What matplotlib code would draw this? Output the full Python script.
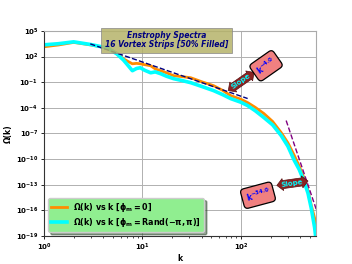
import matplotlib
matplotlib.use("Agg")
import matplotlib.pyplot as plt
import numpy as np

plt.rcParams["mathtext.default"] = "bf"

k_vals = [1, 1.4, 2, 3, 4.4, 5.5, 6.4, 7.2, 7.9, 8.7, 9.5, 10.5, 12.1, 13.5, 15.3, 17.5,
          20.7, 25, 30.9, 40, 52.8, 65, 79, 100, 117, 140, 171, 210, 256, 300, 348, 390,
          438, 480, 518, 560, 580]
log_omega_zero = [3.14, 3.35, 3.65, 3.35, 3.0, 2.4, 1.74, 1.4, 1.15, 1.2, 1.15, 1.05, 0.92,
                  0.55, 0.34, 0.1, -0.24, -0.35, -0.48, -0.95, -1.41, -1.95, -2.58, -3.0,
                  -3.39, -3.95, -4.67, -5.6, -6.89, -8.1, -9.57, -10.8, -12.25, -13.7,
                  -15.4, -16.9, -17.7]
log_omega_rand = [3.37, 3.5, 3.72, 3.4, 3.0, 2.3, 1.6, 0.9, 0.34, 0.6, 0.69, 0.4, 0.10,
                  0.2, -0.01, -0.3, -0.59, -0.8, -1.06, -1.5, -1.99, -2.45, -2.93, -3.35,
                  -3.74, -4.35, -5.14, -6.0, -7.24, -8.5, -10.15, -11.2, -12.6, -14.0,
                  -15.75, -18.0, -19.5]

fit1_k = [2.95, 117]
fit1_slope = -4.0
fit1_logamp = 3.48
fit2_k = [288, 610]
fit2_slope = -34.0
fit2_logamp = -5.49

labels = [r"$\mathbf{\Omega(k)\ vs\ k\ [\phi_m = 0]}$",
          r"$\mathbf{\Omega(k)\ vs\ k\ [\phi_m = Rand(-\pi, \pi)]}$"]

k = np.array(k_vals)
om0 = 10 ** np.array(log_omega_zero)
omr = 10 ** np.array(log_omega_rand)

fig = plt.figure(figsize=(3.52, 2.64), dpi=100)
ax = fig.add_axes([0.125, 0.106, 0.773, 0.777])

ax.loglog(k, om0, color="#ff8c00", lw=2.0, label=labels[0])
ax.loglog(k, omr, color="cyan", lw=2.6, label=labels[1])

f1k = np.array(fit1_k)
ax.loglog(f1k, 10 ** fit1_logamp * (f1k / f1k[0]) ** fit1_slope, "--", color="navy", lw=1.0)
f2k = np.array(fit2_k)
ax.loglog(f2k, 10 ** fit2_logamp * (f2k / f2k[0]) ** fit2_slope, "--", color="purple", lw=1.0)

ax.set_xlim(1, 580)
ax.set_ylim(1e-19, 1e5)
ax.set_yticks([10.0 ** e for e in range(-19, 6, 3)])
ax.yaxis.set_minor_locator(matplotlib.ticker.NullLocator())
ax.grid(True, which="major", color="#b0b0b0", lw=0.7)
for s in ["top", "right"]:
    ax.spines[s].set_color("#aaaaaa")
for s in ["left", "bottom"]:
    ax.spines[s].set_color("#333333")
ax.tick_params(labelsize=5, length=2.5, width=0.6, pad=1.5)
ax.tick_params(which="minor", length=1.5, width=0.5)
for t in ax.get_xticklabels() + ax.get_yticklabels():
    t.set_fontweight("bold")
ax.set_xlabel("k", fontsize=5.5, fontweight="bold", labelpad=1)
ax.set_ylabel("Ω(k)", fontsize=5.5, fontweight="bold", labelpad=2)

ax.text(0.45, 0.955, "Enstrophy Spectra\n16 Vortex Strips [50% Filled]", transform=ax.transAxes,
        ha="center", va="center", fontsize=5.5, fontweight="bold", style="italic",
        color="navy", linespacing=1.0,
        bbox=dict(boxstyle="square,pad=0.45", fc="#b5b36a", ec="#888888", alpha=0.85, lw=0.6))

leg = ax.legend(loc="lower left", fontsize=5.8, facecolor="lightgreen", framealpha=1,
                shadow=True, edgecolor="#cccccc", borderpad=0.35, labelspacing=0.3,
                handlelength=2.0, bbox_to_anchor=(0.0, 0.0))

ax.text(100, 10 ** -0.94, "Slope", rotation=35, ha="center", va="center", fontsize=5,
        fontweight="bold", color="cyan",
        bbox=dict(boxstyle="darrow,pad=0.15", fc="#8b2323", ec="#5a1010", lw=0.5))
ax.text(180, 10 ** 0.92, r"$k^{-4.0}$", rotation=35, ha="center", va="center", fontsize=5.5,
        color="blue",
        bbox=dict(boxstyle="round,pad=0.5", fc="#f08080", ec="black", lw=0.9))

ax.text(331, 10 ** -12.83, "Slope", rotation=8, ha="center", va="center", fontsize=5,
        fontweight="bold", color="cyan",
        bbox=dict(boxstyle="darrow,pad=0.15", fc="#8b2323", ec="#5a1010", lw=0.5))
ax.text(149, 10 ** -14.23, r"$k^{-34.0}$", rotation=15, ha="center", va="center", fontsize=5.5,
        color="blue",
        bbox=dict(boxstyle="round,pad=0.5", fc="#f08080", ec="black", lw=0.9))

fig.savefig("out.png", dpi=100)
